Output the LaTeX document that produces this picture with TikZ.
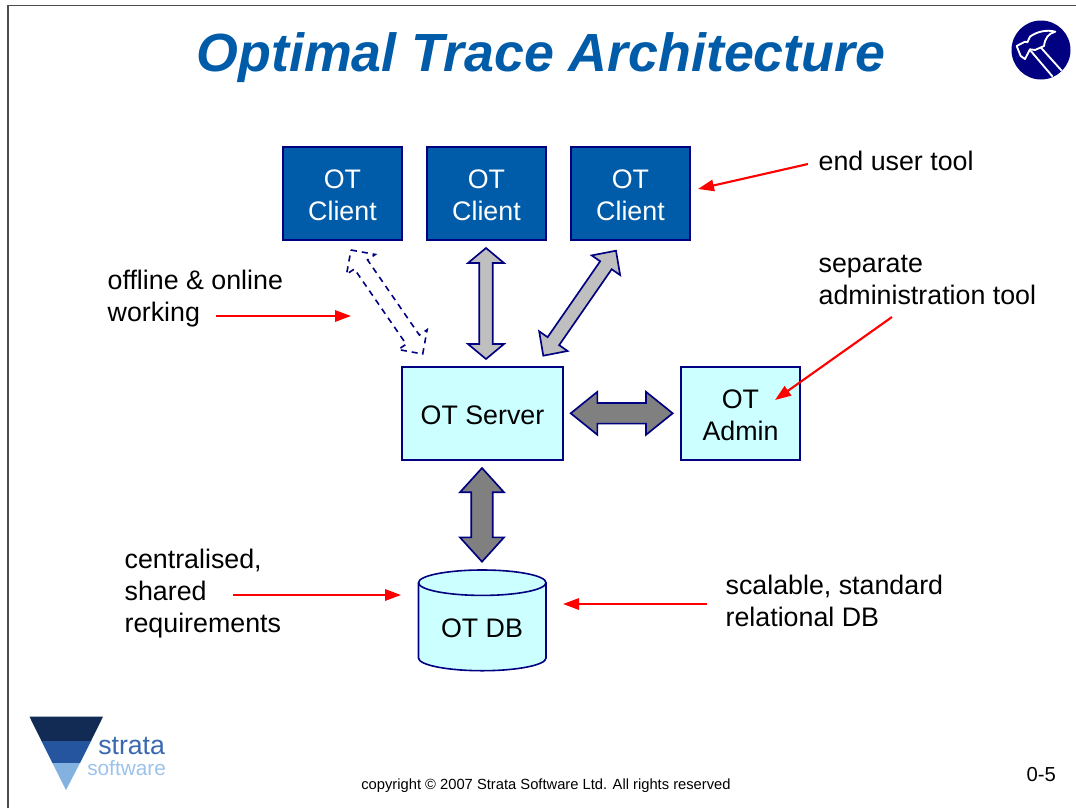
\documentclass[tikz,border=0pt]{standalone}
\usepackage{fontspec}
\setmainfont{Liberation Sans}
\usetikzlibrary{calc,arrows.meta}
\definecolor{navyline}{HTML}{000080}
\definecolor{clientblue}{HTML}{005CA8}
\definecolor{paleCyan}{HTML}{CCFFFF}
\definecolor{titleblue}{HTML}{005CA8}
\definecolor{logoA}{HTML}{122B54}
\definecolor{logoB}{HTML}{24559E}
\definecolor{logoC}{HTML}{83B2E0}
\definecolor{logotextB}{HTML}{3A69B0}
\definecolor{logotextC}{HTML}{9CC3EA}
\newcommand\lowerstrut{\rule{0pt}{16pt}}
\tikzset{
  basebox/.style={draw=navyline,line width=1.2pt,inner sep=0pt,align=center,font=\fontsize{20.1}{24}\selectfont},
  clientbox/.style={basebox,fill=clientblue,text=white,minimum width=89.25pt,minimum height=69.75pt},
  serverbox/.style={basebox,fill=paleCyan,text=black,minimum height=69.75pt},
  note/.style={anchor=west,align=left,inner sep=0pt,font=\fontsize{20.1}{24}\selectfont},
  redarrow/.style={draw=red,line width=1.6pt,-{Triangle[length=12pt,width=8.5pt]}},
  blockbase/.style={draw=navyline,line width=1.25pt,line join=miter},
  lightblock/.style={blockbase,fill=black!25},
  darkblock/.style={blockbase,fill=black!50},
  dashblock/.style={draw=navyline,line width=1.2pt,fill=white,dash pattern=on 4.5pt off 3.75pt},
}
\newcommand\blockarrow[6][]{%
  \pgfmathsetlengthmacro\bsw{#4*.75}%
  \pgfmathsetlengthmacro\bhw{#5*.75}%
  \pgfmathsetlengthmacro\bhl{#6*.75}%
  \draw[#1] (#2)
    -- ($(#2)!\bhl!(#3)!\bhw!90:(#3)$)
    -- ($(#2)!\bhl!(#3)!\bsw!90:(#3)$)
    -- ($(#3)!\bhl!(#2)!\bsw!-90:(#2)$)
    -- ($(#3)!\bhl!(#2)!\bhw!-90:(#2)$)
    -- (#3)
    -- ($(#3)!\bhl!(#2)!\bhw!90:(#2)$)
    -- ($(#3)!\bhl!(#2)!\bsw!90:(#2)$)
    -- ($(#2)!\bhl!(#3)!\bsw!-90:(#3)$)
    -- ($(#2)!\bhl!(#3)!\bhw!-90:(#3)$)
    -- cycle;}
\begin{document}
\begin{tikzpicture}[x=.75pt,y=-.75pt]
\useasboundingbox (0,0) rectangle (1076,808);
\fill[white] (0,0) rectangle (1076,808);
% frame
\draw[black!70,line width=.9pt] (8,808) -- (8,5.5) -- (1076,5.5);
% title
\node[inner sep=0pt,text=titleblue,font=\fontsize{40.3}{48}\selectfont\bfseries\itshape] (title) at (541,58) {Optimal Trace Architecture};
% hammer icon
\fill[navyline] (1041,50) circle (29.5);
\begin{scope}[shift={(980,0)},x=.25pt,y=-.25pt]
  \draw[white,line width=1.4pt,line join=round] (150,150) -- (218,230);
  \draw[white,line width=1.4pt,line join=round] (182,142) -- (245,212);
  \draw[white,fill=navyline,line width=1.4pt,line join=round]
    (110,138) -- (135,125) -- (142,127) -- (150,110)
    .. controls (170,95) and (200,88) .. (226,95)
    .. controls (205,100) and (195,115) .. (192,138)
    -- (165,150) -- (150,148) -- (135,177) -- (122,168) -- cycle;
\end{scope}
% boxes
\node[clientbox] (c1) at (342.5,193.5) {\lowerstrut OT\\Client};
\node[clientbox] (c2) at (486.5,193.5) {\lowerstrut OT\\Client};
\node[clientbox] (c3) at (630.5,193.5) {\lowerstrut OT\\Client};
\node[serverbox,minimum width=120.75pt] (server) at (482.5,413.5) {\lowerstrut OT Server};
\node[serverbox,minimum width=89.25pt] (admin) at (740.5,413.5) {\lowerstrut OT\\Admin};
% database
\draw[draw=navyline,fill=paleCyan,line width=1.2pt]
  (418.5,582.7) -- (418.5,658) arc[start angle=180,end angle=0,x radius=63.75,y radius=12.7]
  -- (546,582.7) arc[start angle=0,end angle=-180,x radius=63.75,y radius=12.7] -- cycle;
\draw[draw=navyline,line width=1.2pt]
  (418.5,582.7) arc[start angle=180,end angle=0,x radius=63.75,y radius=12.7];
\node[inner sep=0pt,font=\fontsize{20.1}{24}\selectfont] (db) at (482,628) {OT DB};
% block arrows
\coordinate (d1) at (351,250); \coordinate (d2) at (422.7,354);
\coordinate (v1) at (486,248); \coordinate (v2) at (486,359);
\coordinate (g1) at (616,250.7); \coordinate (g2) at (543.3,355.7);
\coordinate (h1) at (570.7,413.3); \coordinate (h2) at (672.7,413.3);
\coordinate (b1) at (482,468); \coordinate (b2) at (482,561.7);
\blockarrow[dashblock]{d1}{d2}{8}{17.5}{17.5}
\blockarrow[lightblock]{v1}{v2}{6.7}{18}{15}
\blockarrow[lightblock]{g1}{g2}{7}{17.3}{17.7}
\blockarrow[darkblock]{h1}{h2}{10.3}{21.5}{26.7}
\blockarrow[darkblock]{b1}{b2}{10.7}{22}{24.3}
% labels
\node[note] (nEnd) at (818.4,161) {end user tool};
\node[note] (nSep) at (818.4,280) {separate\\administration tool};
\node[note] (nOff) at (107.4,299) {offline \& online\\working};
\node[note] (nCen) at (124.4,594) {centralised,\\shared\\requirements};
\node[note] (nSca) at (725.4,601) {scalable, standard\\relational DB};
% red arrows
\coordinate (r1a) at (808,164); \coordinate (r1b) at (698,189);
\coordinate (r2a) at (892,317); \coordinate (r2b) at (775,400);
\coordinate (r3a) at (216,316); \coordinate (r3b) at (351,316);
\coordinate (r4a) at (233,595); \coordinate (r4b) at (401,595);
\coordinate (r5a) at (707,604); \coordinate (r5b) at (563,604);
\draw[redarrow] (r1a) -- (r1b);
\draw[redarrow] (r2a) -- (r2b);
\draw[redarrow] (r3a) -- (r3b);
\draw[redarrow] (r4a) -- (r4b);
\draw[redarrow] (r5a) -- (r5b);
% logo
\fill[logoA] (29.5,716.7) -- (103,716.7) -- (91,741) -- (41.5,741) -- cycle;
\fill[logoB] (41.5,741) -- (91,741) -- (80,763) -- (52.5,763) -- cycle;
\fill[logoC] (52.5,763) -- (80,763) -- (66,790) -- cycle;
\node[anchor=base west,inner sep=0pt,text=logotextB,font=\fontsize{20}{24}\selectfont] (lg1) at (98,754.5) {strata};
\node[anchor=base west,inner sep=0pt,text=logotextC,font=\fontsize{15.6}{19}\selectfont] (lg2) at (87,775) {software};
% footer
\node[inner sep=0pt,font=\fontsize{11.05}{13}\selectfont] (copy) at (546,786) {copyright © 2007 Strata Software Ltd. All rights reserved};
\node[inner sep=0pt,font=\fontsize{15.2}{18}\selectfont] (page) at (1041.3,775) {0-5};
\end{tikzpicture}
\end{document}
